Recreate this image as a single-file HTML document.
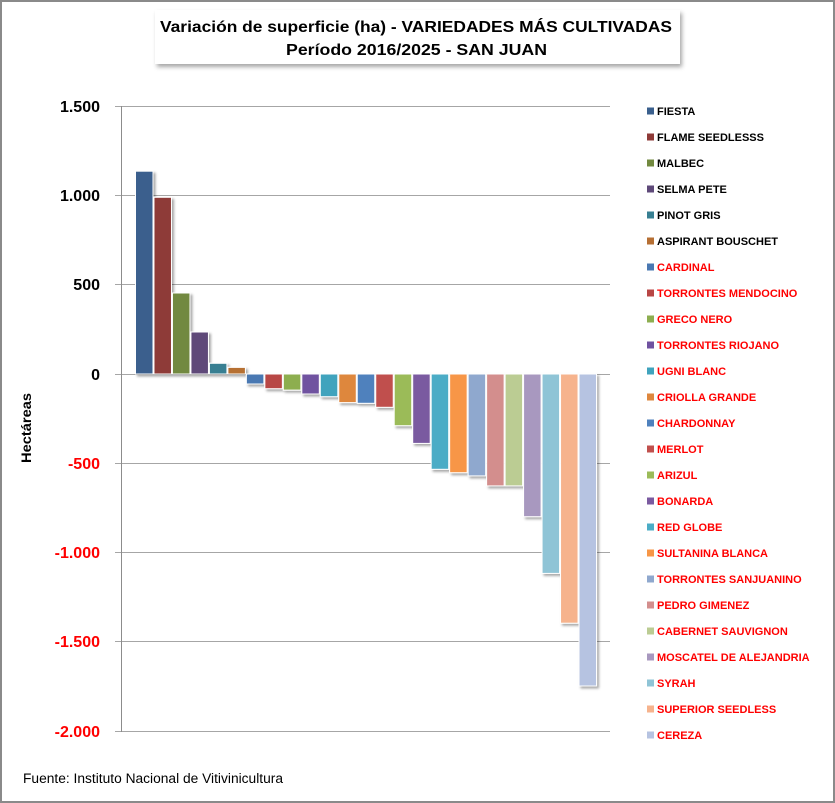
<!DOCTYPE html>
<html>
<head>
<meta charset="utf-8">
<style>
  html,body{margin:0;padding:0;background:#fff;}
  svg{display:block;}
  text{font-family:"Liberation Sans", sans-serif;}
</style>
</head>
<body>
<svg width="835" height="803" viewBox="0 0 835 803" xmlns="http://www.w3.org/2000/svg">
  <defs>
    <filter id="sh" x="-20%" y="-20%" width="150%" height="150%">
      <feDropShadow dx="2" dy="2" stdDeviation="1.2" flood-color="#000" flood-opacity="0.35"/>
    </filter>
    <filter id="tsh" x="-5%" y="-20%" width="110%" height="150%">
      <feDropShadow dx="2" dy="3" stdDeviation="2" flood-color="#000" flood-opacity="0.35"/>
    </filter>
  </defs>
  <!-- background and border -->
  <rect x="0" y="0" width="835" height="803" fill="#fff"/>
  <rect x="1" y="1" width="833" height="801" fill="none" stroke="#8a8a8a" stroke-width="2"/>

  <!-- title box -->
  <rect x="155" y="10" width="525" height="54" fill="#fff" filter="url(#tsh)"/>
  <text x="160" y="32" font-size="16" font-weight="bold" fill="#000" textLength="512" lengthAdjust="spacingAndGlyphs">Variación de superficie (ha) - VARIEDADES MÁS CULTIVADAS</text>
  <text x="286" y="55" font-size="16" font-weight="bold" fill="#000" textLength="261" lengthAdjust="spacingAndGlyphs">Período 2016/2025 - SAN JUAN</text>

  <!-- gridlines -->
  <g stroke="#a6a6a6" stroke-width="1">
    <line x1="115" y1="106.5" x2="610" y2="106.5"/>
    <line x1="115" y1="195.5" x2="610" y2="195.5"/>
    <line x1="115" y1="284.5" x2="610" y2="284.5"/>
    <line x1="115" y1="374.5" x2="610" y2="374.5"/>
    <line x1="115" y1="463.5" x2="610" y2="463.5"/>
    <line x1="115" y1="552.5" x2="610" y2="552.5"/>
    <line x1="115" y1="641.5" x2="610" y2="641.5"/>
    <line x1="115" y1="731.5" x2="610" y2="731.5"/>
  </g>
  <line x1="121.5" y1="106" x2="121.5" y2="732" stroke="#8c8c8c" stroke-width="1"/>

  <!-- y labels -->
  <g font-size="16" font-weight="bold" text-anchor="end">
    <text x="100" y="112" fill="#000">1.500</text>
    <text x="100" y="201" fill="#000">1.000</text>
    <text x="100" y="290" fill="#000">500</text>
    <text x="100" y="380" fill="#000">0</text>
    <text x="100" y="469" fill="#ff0000">-500</text>
    <text x="100" y="558" fill="#ff0000">-1.000</text>
    <text x="100" y="647" fill="#ff0000">-1.500</text>
    <text x="100" y="737" fill="#ff0000">-2.000</text>
  </g>
  <text transform="translate(31,463) rotate(-90)" font-size="14" font-weight="bold" fill="#000" textLength="70" lengthAdjust="spacingAndGlyphs">Hectáreas</text>

  <!-- bars -->
  <g filter="url(#sh)" stroke="#fff" stroke-width="1">
    <rect x="135.5" y="171.2" width="17.5" height="202.8" fill="#3a5f8d"/>
    <rect x="153.98" y="197.3" width="17.5" height="176.7" fill="#8e3a37"/>
    <rect x="172.46" y="293.0" width="17.5" height="81.0" fill="#72893f"/>
    <rect x="190.94" y="332.0" width="17.5" height="42.0" fill="#5e4979"/>
    <rect x="209.42" y="363.3" width="17.5" height="10.7" fill="#377f92"/>
    <rect x="227.9" y="367.4" width="17.5" height="6.6" fill="#b66f33"/>
    <rect x="246.38" y="374" width="17.5" height="10.0" fill="#4a78b2"/>
    <rect x="264.86" y="374" width="17.5" height="14.7" fill="#b84645"/>
    <rect x="283.34" y="374" width="17.5" height="16.1" fill="#8dae50"/>
    <rect x="301.82" y="374" width="17.5" height="20.0" fill="#6f52a0"/>
    <rect x="320.3" y="374" width="17.5" height="22.7" fill="#3fa3bd"/>
    <rect x="338.78" y="374" width="17.5" height="28.6" fill="#de873e"/>
    <rect x="357.26" y="374" width="17.5" height="29.3" fill="#4f81bd"/>
    <rect x="375.74" y="374" width="17.5" height="33.3" fill="#c0504d"/>
    <rect x="394.22" y="374" width="17.5" height="51.7" fill="#9bbb59"/>
    <rect x="412.7" y="374" width="17.5" height="69.4" fill="#7a5aa0"/>
    <rect x="431.18" y="374" width="17.5" height="95.3" fill="#4bacc6"/>
    <rect x="449.66" y="374" width="17.5" height="98.7" fill="#f79646"/>
    <rect x="468.14" y="374" width="17.5" height="101.9" fill="#8fa8ce"/>
    <rect x="486.62" y="374" width="17.5" height="111.9" fill="#d38e8d"/>
    <rect x="505.1" y="374" width="17.5" height="111.9" fill="#bbcc93"/>
    <rect x="523.58" y="374" width="17.5" height="142.7" fill="#a898bf"/>
    <rect x="542.06" y="374" width="17.5" height="199.4" fill="#8fc4d6"/>
    <rect x="560.54" y="374" width="17.5" height="249.2" fill="#f6b38d"/>
    <rect x="579.02" y="374" width="17.5" height="312.0" fill="#b6c3e1"/>
  </g>

  <!-- legend -->
  <g font-size="11" font-weight="bold">
    <rect x="647" y="107.5" width="7" height="7" fill="#3a5f8d"/><text x="657" y="115" fill="#000">FIESTA</text>
    <rect x="647" y="133.5" width="7" height="7" fill="#8e3a37"/><text x="657" y="141" fill="#000">FLAME SEEDLESSS</text>
    <rect x="647" y="159.5" width="7" height="7" fill="#72893f"/><text x="657" y="167" fill="#000">MALBEC</text>
    <rect x="647" y="185.5" width="7" height="7" fill="#5e4979"/><text x="657" y="193" fill="#000">SELMA PETE</text>
    <rect x="647" y="211.5" width="7" height="7" fill="#377f92"/><text x="657" y="219" fill="#000">PINOT GRIS</text>
    <rect x="647" y="237.5" width="7" height="7" fill="#b66f33"/><text x="657" y="245" fill="#000">ASPIRANT BOUSCHET</text>
    <rect x="647" y="263.5" width="7" height="7" fill="#4a78b2"/><text x="657" y="271" fill="#ff0000">CARDINAL</text>
    <rect x="647" y="289.5" width="7" height="7" fill="#b84645"/><text x="657" y="297" fill="#ff0000">TORRONTES MENDOCINO</text>
    <rect x="647" y="315.5" width="7" height="7" fill="#8dae50"/><text x="657" y="323" fill="#ff0000">GRECO NERO</text>
    <rect x="647" y="341.5" width="7" height="7" fill="#6f52a0"/><text x="657" y="349" fill="#ff0000">TORRONTES RIOJANO</text>
    <rect x="647" y="367.5" width="7" height="7" fill="#3fa3bd"/><text x="657" y="375" fill="#ff0000">UGNI BLANC</text>
    <rect x="647" y="393.5" width="7" height="7" fill="#de873e"/><text x="657" y="401" fill="#ff0000">CRIOLLA GRANDE</text>
    <rect x="647" y="419.5" width="7" height="7" fill="#4f81bd"/><text x="657" y="427" fill="#ff0000">CHARDONNAY</text>
    <rect x="647" y="445.5" width="7" height="7" fill="#c0504d"/><text x="657" y="453" fill="#ff0000">MERLOT</text>
    <rect x="647" y="471.5" width="7" height="7" fill="#9bbb59"/><text x="657" y="479" fill="#ff0000">ARIZUL</text>
    <rect x="647" y="497.5" width="7" height="7" fill="#7a5aa0"/><text x="657" y="505" fill="#ff0000">BONARDA</text>
    <rect x="647" y="523.5" width="7" height="7" fill="#4bacc6"/><text x="657" y="531" fill="#ff0000">RED GLOBE</text>
    <rect x="647" y="549.5" width="7" height="7" fill="#f79646"/><text x="657" y="557" fill="#ff0000">SULTANINA BLANCA</text>
    <rect x="647" y="575.5" width="7" height="7" fill="#8fa8ce"/><text x="657" y="583" fill="#ff0000">TORRONTES SANJUANINO</text>
    <rect x="647" y="601.5" width="7" height="7" fill="#d38e8d"/><text x="657" y="609" fill="#ff0000">PEDRO GIMENEZ</text>
    <rect x="647" y="627.5" width="7" height="7" fill="#bbcc93"/><text x="657" y="635" fill="#ff0000">CABERNET SAUVIGNON</text>
    <rect x="647" y="653.5" width="7" height="7" fill="#a898bf"/><text x="657" y="661" fill="#ff0000">MOSCATEL DE ALEJANDRIA</text>
    <rect x="647" y="679.5" width="7" height="7" fill="#8fc4d6"/><text x="657" y="687" fill="#ff0000">SYRAH</text>
    <rect x="647" y="705.5" width="7" height="7" fill="#f6b38d"/><text x="657" y="713" fill="#ff0000">SUPERIOR SEEDLESS</text>
    <rect x="647" y="731.5" width="7" height="7" fill="#b6c3e1"/><text x="657" y="739" fill="#ff0000">CEREZA</text>
  </g>

  <!-- footer -->
  <text x="23" y="783" font-size="13.5" fill="#000" textLength="260" lengthAdjust="spacingAndGlyphs">Fuente: Instituto Nacional de Vitivinicultura</text>
</svg>
</body>
</html>
